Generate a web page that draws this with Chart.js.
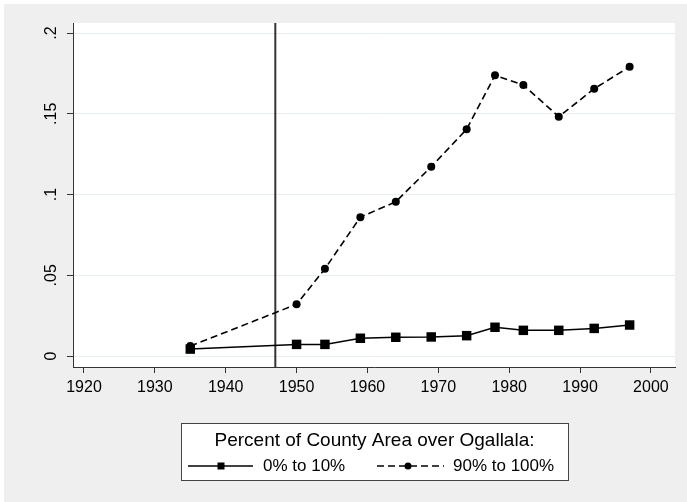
<!DOCTYPE html>
<html>
<head>
<meta charset="utf-8">
<script src="https://cdn.jsdelivr.net/npm/chart.js@4.4.1/dist/chart.umd.min.js"></script>
<style>
  html, body { margin: 0; padding: 0; background: #fff; }
  #wrap { width: 687px; height: 502px; }
</style>
</head>
<body>
<div id="wrap"><canvas id="chart" width="687" height="502"></canvas></div>
<script>
// census years and share of county area
const years = [1935, 1950, 1954, 1959, 1964, 1969, 1974, 1978, 1982, 1987, 1992, 1997];
const lowShare = [0.0043, 0.0072, 0.0072, 0.0110, 0.0116, 0.0118, 0.0126, 0.0178, 0.0159, 0.0159, 0.0171, 0.0192];
const highShare = [0.0062, 0.0320, 0.0540, 0.0860, 0.0955, 0.1172, 0.1404, 0.1738, 0.1678, 0.1482, 0.1655, 0.1791];
const seriesNames = ['0% to 10%', '90% to 100%'];
const legendTitle = 'Percent of County Area over Ogallala:';
const xTicks = [1920, 1930, 1940, 1950, 1960, 1970, 1980, 1990, 2000];
const yTicks = [0, 0.05, 0.1, 0.15, 0.2];
const cutYear = 1947;

const FONT = '"Liberation Sans", Arial, sans-serif';

function yLabel(v) {
    return v === 0 ? '0' : String(v).replace(/^0/, '');
}

const background = {
    id: 'background',
    beforeDraw(chart) {
        const ctx = chart.ctx, a = chart.chartArea;
        ctx.save();
        ctx.fillStyle = '#fff';
        ctx.fillRect(0, 0, chart.width, chart.height);
        ctx.fillStyle = '#efefef';
        ctx.fillRect(4, 4, chart.width - 4, chart.height - 4);
        ctx.fillStyle = '#fff';
        ctx.fillRect(a.left, a.top, a.right - a.left, a.bottom - a.top);
        ctx.restore();
    },
    beforeDatasetsDraw(chart) {
        const ctx = chart.ctx, a = chart.chartArea;
        const x = chart.scales.x.getPixelForValue(cutYear);
        ctx.save();
        ctx.strokeStyle = '#333';
        ctx.lineWidth = 2;
        ctx.beginPath();
        ctx.moveTo(x, a.top);
        ctx.lineTo(x, a.bottom);
        ctx.stroke();
        ctx.restore();
    },
    afterDraw(chart) {
        const ctx = chart.ctx;
        const ys = chart.scales.y;
        // rotated y labels
        ctx.save();
        ctx.fillStyle = '#000';
        ctx.font = '16px ' + FONT;
        ctx.textAlign = 'center';
        ctx.textBaseline = 'middle';
        ys.ticks.forEach(t => {
            ctx.save();
            ctx.translate(52, ys.getPixelForValue(t.value));
            ctx.rotate(-Math.PI / 2);
            ctx.fillText(yLabel(t.value), 0, 0);
            ctx.restore();
        });
        ctx.restore();

        // legend box
        const bx = 181, by = 423, bw = 387, bh = 57;
        ctx.save();
        ctx.fillStyle = '#fff';
        ctx.fillRect(bx, by, bw, bh);
        ctx.strokeStyle = '#444';
        ctx.lineWidth = 1;
        ctx.strokeRect(bx + 0.5, by + 0.5, bw, bh);
        ctx.fillStyle = '#000';
        ctx.textAlign = 'center';
        ctx.textBaseline = 'middle';
        ctx.font = '19px ' + FONT;
        ctx.fillText(legendTitle, bx + bw / 2, 441);

        const rowY = 466;
        ctx.font = '17px ' + FONT;
        ctx.textAlign = 'left';
        ctx.strokeStyle = '#000';
        // solid with square
        ctx.lineWidth = 1.5;
        ctx.setLineDash([]);
        ctx.beginPath();
        ctx.moveTo(188, rowY); ctx.lineTo(253, rowY);
        ctx.stroke();
        ctx.fillRect(221 - 3.5, rowY - 3.5, 7, 7);
        ctx.fillText(seriesNames[0], 263, rowY);
        // dashed with dot
        ctx.lineWidth = 1.6;
        ctx.setLineDash([7, 4]);
        ctx.beginPath();
        ctx.moveTo(377, rowY); ctx.lineTo(444, rowY);
        ctx.stroke();
        ctx.setLineDash([]);
        ctx.beginPath();
        ctx.arc(408, rowY, 3.5, 0, Math.PI * 2);
        ctx.fill();
        ctx.fillText(seriesNames[1], 453, rowY);
        ctx.restore();
    }
};

new Chart(document.getElementById('chart').getContext('2d'), {
    type: 'line',
    data: {
        datasets: [{
            label: seriesNames[0],
            data: years.map((x, i) => ({ x: x, y: lowShare[i] })),
            borderColor: '#000',
            borderWidth: 1.5,
            pointStyle: 'rect',
            pointRadius: 6.7,
            pointBackgroundColor: '#000',
            pointBorderWidth: 0,
            tension: 0,
            order: 0
        }, {
            label: seriesNames[1],
            data: years.map((x, i) => ({ x: x, y: highShare[i] })),
            borderColor: '#000',
            borderWidth: 1.6,
            borderDash: [7, 4],
            pointStyle: 'circle',
            pointRadius: 4,
            pointBackgroundColor: '#000',
            pointBorderWidth: 0,
            tension: 0,
            order: 1
        }]
    },
    options: {
        responsive: false,
        animation: false,
        devicePixelRatio: 1,
        layout: { padding: { left: 0, top: 23, right: 12, bottom: 95 } },
        plugins: { legend: { display: false }, tooltip: { enabled: false } },
        scales: {
            x: {
                type: 'linear',
                min: 1918.45,
                max: 2003.4,
                afterBuildTicks: s => { s.ticks = xTicks.map(v => ({ value: v })); },
                afterFit: s => { s.height = 40; },
                ticks: {
                    color: '#000',
                    font: { family: FONT, size: 16 },
                    padding: 5,
                    maxRotation: 0,
                    autoSkip: false,
                    callback: v => String(v)
                },
                grid: { drawOnChartArea: false, tickLength: 6, tickColor: '#333' },
                border: { color: '#333', width: 1 }
            },
            y: {
                type: 'linear',
                min: -0.0068,
                max: 0.2062,
                afterBuildTicks: s => { s.ticks = yTicks.map(v => ({ value: v })); },
                afterFit: s => { s.width = 73; },
                ticks: { display: false },
                grid: { color: '#e6eef0', lineWidth: 1, tickLength: 6, tickColor: '#333' },
                border: { color: '#333', width: 1 }
            }
        }
    },
    plugins: [background]
});
</script>
</body>
</html>
